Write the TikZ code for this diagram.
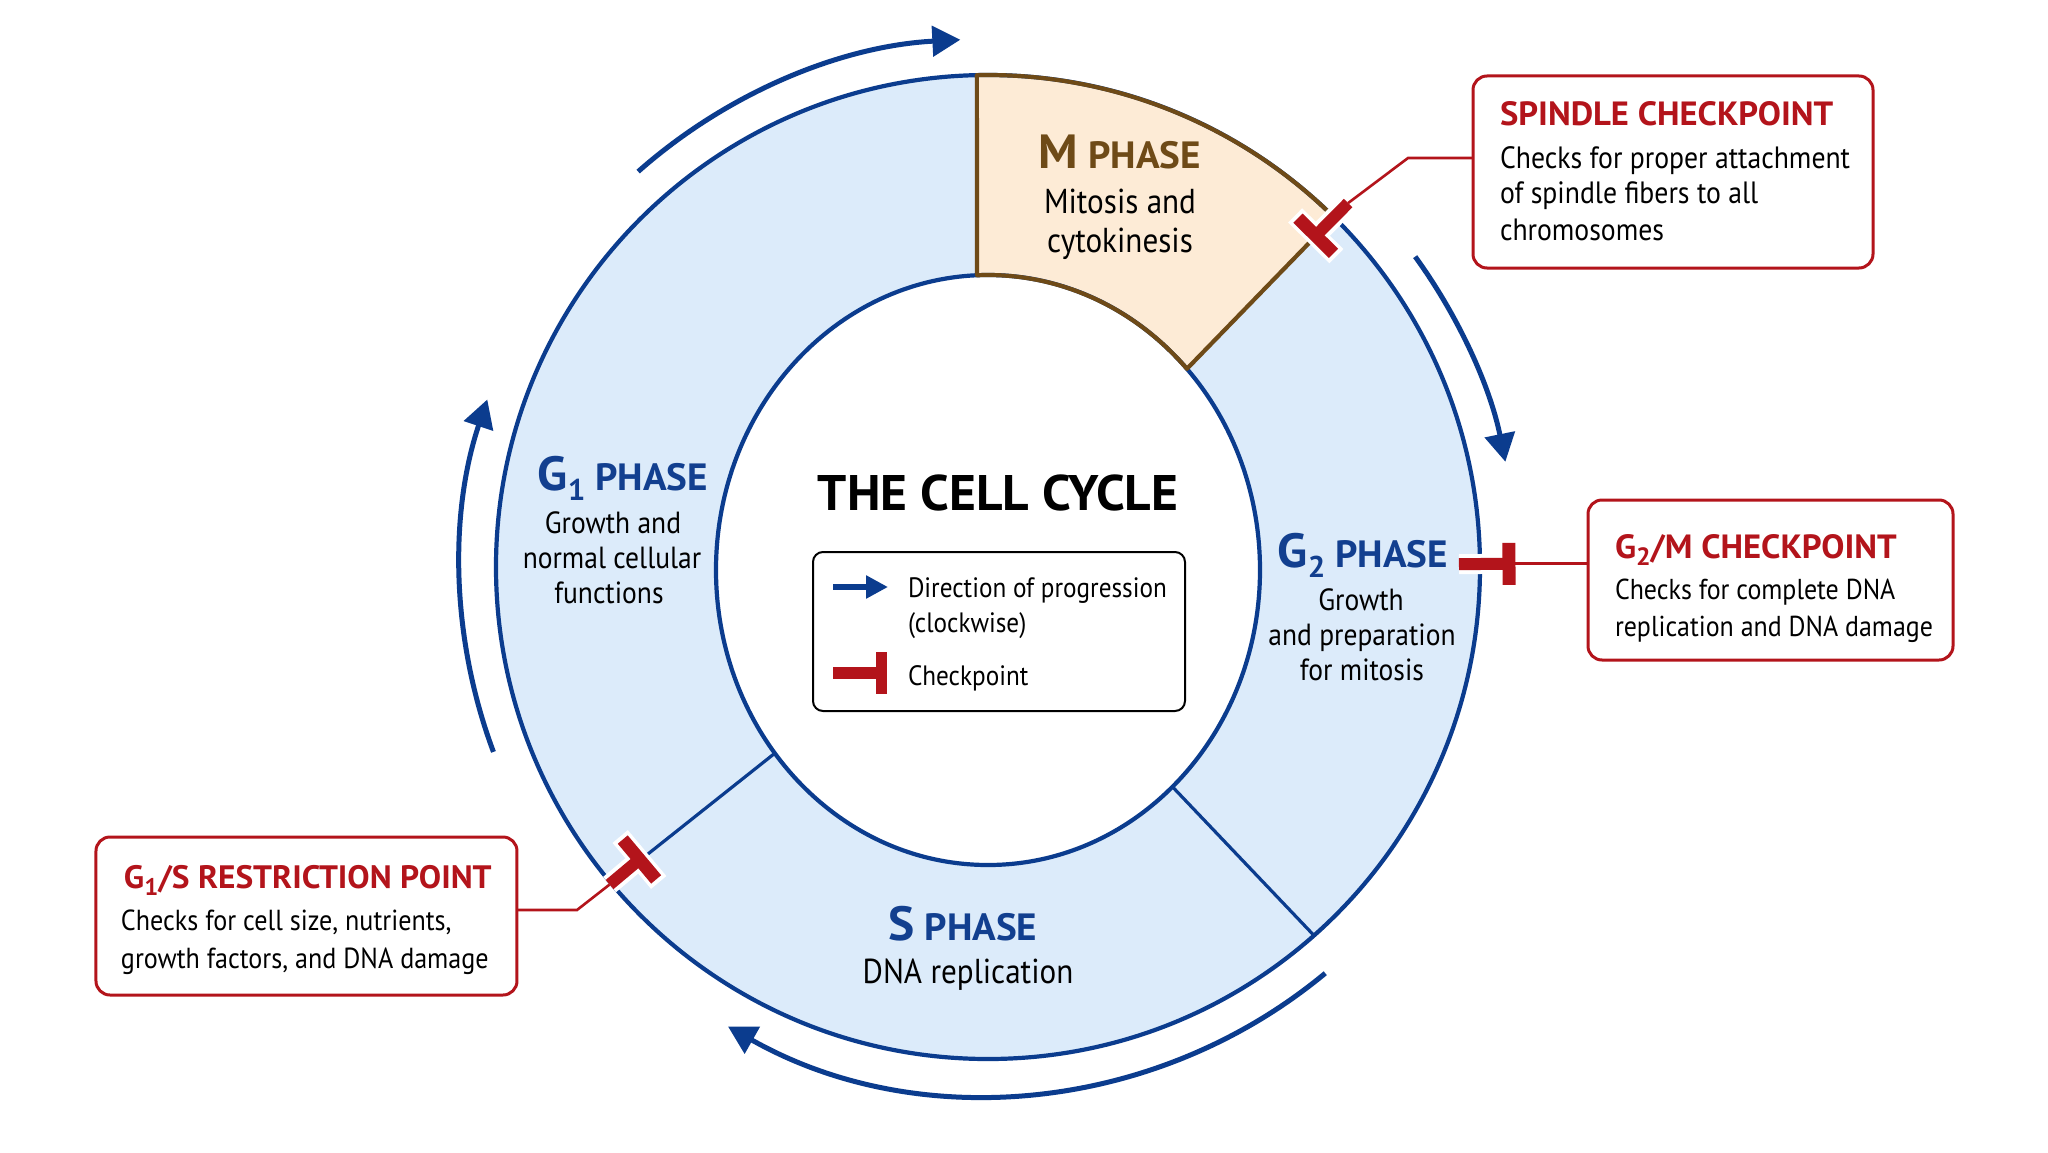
\documentclass[tikz,border=0pt]{standalone}
\usepackage{fontspec}
\setmainfont{PT Sans}[FakeStretch=0.9]
\newfontfamily\hdfont{PT Sans}[FakeStretch=1.03]
\usetikzlibrary{arrows.meta,calc}
\definecolor{ringblue}{HTML}{0B3C8E}
\definecolor{ringfill}{HTML}{DCEBFA}
\definecolor{mfill}{HTML}{FDEBD6}
\definecolor{mbrown}{HTML}{6E4A17}
\definecolor{ckred}{HTML}{B3141B}
\definecolor{phblue}{HTML}{123F8F}
\newcommand{\bigL}[1]{{\fontsize{24}{24}\selectfont #1}}
\newcommand{\subN}[1]{\raisebox{-5pt}{\fontsize{15}{15}\selectfont #1}}
\begin{document}
\begin{tikzpicture}[x=0.5pt,y=0.5pt,
  every node/.style={inner sep=0pt, outer sep=0pt},
  ringline/.style={draw=ringblue, line width=2.1pt},
  divline/.style={draw=ringblue, line width=1.6pt},
  mline/.style={draw=mbrown, line width=2.1pt, line join=round},
  progarrow/.style={draw=ringblue, line width=2.5pt, -{Triangle[length=14pt,width=15pt]}},
  ckbox/.style={draw=ckred, line width=1.5pt, rounded corners=7pt, fill=white},
  cklink/.style={draw=ckred, line width=1.3pt},
  tred/.style={draw=ckred, line width=6pt},
  thalo/.style={draw=white, line width=10pt},
  boxbody/.style={font=\fontsize{15}{18}\selectfont, text=black, anchor=base west},
  legtxt/.style={font=\fontsize{14}{17}\selectfont, text=black, anchor=base west},
  phbody/.style={font=\fontsize{15.3}{18}\selectfont, text=black, anchor=base},
  mbody/.style={font=\fontsize{17.3}{20}\selectfont, text=black, anchor=base},
  cktitle/.style={font=\hdfont\bfseries\fontsize{16.8}{20}\selectfont, text=ckred, anchor=base west},
  phtitle/.style={font=\hdfont\bfseries\fontsize{19}{22}\selectfont, anchor=base},
]
\useasboundingbox (-988,-585) rectangle (1060,567);
\fill[white] (-988,-585) rectangle (1060,567);

% ---- ring ----
\fill[ringfill, even odd rule] (0,0) circle[radius=492] (0,-3) ellipse[x radius=272, y radius=295];
\coordinate (oMa) at (91.3:492);
\coordinate (oMb) at (45.3:492);
\coordinate (iMa) at ([shift={(0,-3)}]92.3:272 and 295);
\coordinate (iMb) at ([shift={(0,-3)}]43:272 and 295);
\fill[mfill] (oMa) arc[start angle=91.3, end angle=45.3, radius=492] -- (iMb)
  arc[start angle=43, end angle=92.3, x radius=272, y radius=295] -- cycle;
\draw[ringline] (0,0) circle[radius=492];
\draw[ringline] (0,-3) ellipse[x radius=272, y radius=295];
\coordinate (oGS) at (-48.5:492);
\coordinate (iGS) at ([shift={(0,-3)}]-47.3:272 and 295);
\coordinate (oSG) at (220:492);
\coordinate (iSG) at ([shift={(0,-3)}]218.4:272 and 295);
\draw[divline] (iGS) -- (oGS);
\draw[divline] (iSG) -- (oSG);
\draw[mline] (oMa) arc[start angle=91.3, end angle=45.3, radius=492] -- (iMb)
  arc[start angle=43, end angle=92.3, x radius=272, y radius=295] -- cycle;

% ---- progression arrows ----
\coordinate (pa1) at (131.5:528);
\coordinate (pa2) at (36:528);
\coordinate (pa3) at (-50.3:528);
\coordinate (pa4) at (200.5:528);
\draw[progarrow] (pa1) arc[start angle=131.5, end angle=93, radius=528];
\draw[progarrow] (pa2) arc[start angle=36, end angle=11.5, radius=528];
\draw[progarrow] (pa3) arc[start angle=-50.3, end angle=-119.5, radius=528];
\draw[progarrow] (pa4) arc[start angle=200.5, end angle=161.5, radius=528];

% ---- checkpoint boxes ----
\node[ckbox, minimum width=200pt, minimum height=96pt, anchor=north west] (spbox) at (485,491) {};
\node[ckbox, minimum width=182.5pt, minimum height=80pt, anchor=north west] (gmbox) at (600,67) {};
\node[ckbox, minimum width=210.5pt, minimum height=79pt, anchor=north west] (gsbox) at (-892,-270) {};

\node[cktitle] (spT1) at (512,441) {SPINDLE CHECKPOINT};
\node[boxbody, font=\fontsize{15.4}{18}\selectfont] (spB1) at (512,399) {Checks for proper attachment};
\node[boxbody, font=\fontsize{15.4}{18}\selectfont] (spB2) at (512,364) {of spindle fibers to all};
\node[boxbody, font=\fontsize{15.4}{18}\selectfont] (spB3) at (512,327) {chromosomes};

\node[cktitle] (gmT1) at (627,9) {G\raisebox{-3.5pt}{\fontsize{12.5}{12}\selectfont 2}/M CHECKPOINT};
\node[boxbody, font=\fontsize{14.4}{18}\selectfont] (gmB1) at (627,-32) {Checks for complete DNA};
\node[boxbody, font=\fontsize{14.4}{18}\selectfont] (gmB2) at (627,-69) {replication and DNA damage};

\node[cktitle, font=\hdfont\bfseries\fontsize{16.2}{20}\selectfont] (gsT1) at (-864,-321) {G\raisebox{-3.5pt}{\fontsize{12}{12}\selectfont 1}/S RESTRICTION POINT};
\node[boxbody, font=\fontsize{14.5}{18}\selectfont] (gsB1) at (-867,-363) {Checks for cell size, nutrients,};
\node[boxbody, font=\fontsize{14.5}{18}\selectfont] (gsB2) at (-867,-401) {growth factors, and DNA damage};

% ---- checkpoint T marks ----
\coordinate (spT) at (45.3:512);
\coordinate (spK) at (420,409);
\coordinate (gmT) at (0.35:527);
\coordinate (gsT) at (220:494);
\coordinate (gsK) at (-411,-343);
\begin{scope}[rotate=45.3]
  \draw[thalo] (466,-29) -- (466,29);
  \draw[thalo] (466,0) -- (512,0);
\end{scope}
\begin{scope}[rotate=0.35]
  \draw[thalo] (471,0) -- (521,0);
  \draw[thalo] (521,-25) -- (521,25);
\end{scope}
\begin{scope}[rotate=220]
  \draw[thalo] (455,-30) -- (455,30);
  \draw[thalo] (455,0) -- (494,0);
\end{scope}
\draw[cklink] (spT) -- (spK) -- (spK -| spbox.west);
\draw[cklink] (gmT) -- (gmT -| gmbox.west);
\draw[cklink] (gsT) -- (gsK) -- (gsK -| gsbox.east);
\begin{scope}[rotate=45.3]
  \draw[tred] (466,0) -- (512,0);
  \draw[tred, line width=6.5pt] (466,-25) -- (466,25);
\end{scope}
\begin{scope}[rotate=0.35]
  \draw[tred] (471,0) -- (521,0);
  \draw[tred, line width=6.5pt] (521,-21) -- (521,21);
\end{scope}
\begin{scope}[rotate=220]
  \draw[tred] (455,0) -- (494,0);
  \draw[tred, line width=6.5pt] (455,-26) -- (455,26);
\end{scope}

% ---- phase labels ----
\node[phtitle, text=mbrown] (mT) at (132,399) {\bigL{M} PHASE};
\node[mbody] (mB1) at (132,354) {Mitosis and};
\node[mbody] (mB2) at (132,315) {cytokinesis};

\node[phtitle, text=phblue] (g1T) at (-365,77) {\bigL{G}\subN{1} PHASE};
\node[phbody] (g1B1) at (-375,34) {Growth and};
\node[phbody] (g1B2) at (-376,-1) {normal cellular};
\node[phbody] (g1B3) at (-379,-36) {functions};

\node[phtitle, text=phblue] (g2T) at (375,0) {\bigL{G}\subN{2} PHASE};
\node[phbody] (g2B1) at (373,-43) {Growth};
\node[phbody] (g2B2) at (374,-78) {and preparation};
\node[phbody] (g2B3) at (374,-113) {for mitosis};

\node[phtitle, text=phblue] (sT) at (-25,-373) {\bigL{S} PHASE};
\node[mbody] (sB1) at (-20,-416) {DNA replication};

% ---- centre ----
\node[font=\hdfont\bfseries\fontsize{25}{30}\selectfont, anchor=base] (title) at (10,57) {THE CELL CYCLE};
\node[draw=black, line width=1pt, rounded corners=5pt, minimum width=186pt, minimum height=79.5pt, anchor=north west, fill=white] (legbox) at (-175,15) {};
\coordinate (la1) at (-155,-20);
\coordinate (la2) at (-100,-20);
\draw[draw=ringblue, line width=3pt, -{Triangle[length=11pt,width=11pt]}] (la1) -- (la2);
\coordinate (lt1) at (-155,-106);
\coordinate (lt2) at (-107,-106);
\draw[tred] (lt1) -- (lt2);
\draw[draw=ckred, line width=5.5pt] ($(lt2)+(0,21)$) -- ($(lt2)+(0,-21)$);
\node[legtxt] (lg1) at (-80,-30) {Direction of progression};
\node[legtxt] (lg2) at (-80,-65) {(clockwise)};
\node[legtxt] (lg3) at (-80,-118) {Checkpoint};
\end{tikzpicture}
\end{document}
